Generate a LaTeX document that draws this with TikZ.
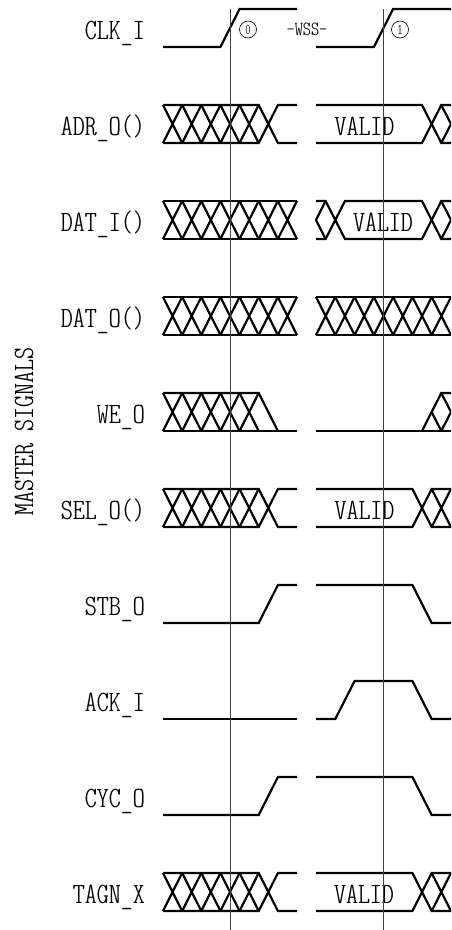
\documentclass[tikz,border=0pt]{standalone}
\newcommand{\sigfont}{\fontsize{29.5}{29.5}\ttfamily\fontseries{lc}\selectfont}
\newcommand{\wssfont}{\fontsize{20}{20}\ttfamily\fontseries{lc}\selectfont}
\newcommand{\numfont}{\fontsize{15}{15}\ttfamily\fontseries{lc}\selectfont}
\newcommand{\sig}[1]{\scalebox{1.16}[1]{#1}}
\begin{document}
\begin{tikzpicture}[x=1pt, y=-1pt,
    wave/.style={line width=2.2pt},
    marker/.style={line width=0.9pt, black!75},
    siglabel/.style={anchor=base east, inner sep=0pt, font=\sigfont},
    valid/.style={anchor=base, inner sep=0pt, font=\sigfont},
    edgenum/.style={draw, circle, line width=0.6pt, inner sep=0pt, minimum size=17pt, font=\numfont}]
    \useasboundingbox (0,0) rectangle (451,930);
    \clip (0,0) rectangle (451,930);

    % Group label
    \node[rotate=90, anchor=base, inner sep=0pt, font=\sigfont] (master) at (33,431.5) {\sig{MASTER SIGNALS}};

    % CLK_I
    \begin{scope}[shift={(0,9)}]
        \node[siglabel] (clk) at (145,30) {\sig{CLK\_I}};
        \draw[wave] (163,38) -- (220.4,38) -- (239.6,0) -- (297,0);
        \draw[wave] (316,38) -- (373.9,38) -- (393.1,0) -- (451,0);
        \node[edgenum] (edge0) at (248,20.5) {0};
        \node[anchor=base, inner sep=0pt, font=\wssfont] (wss) at (307,26) {\sig{-WSS-}};
        \node[edgenum] (edge1) at (400,20.5) {1};
    \end{scope}

    % ADR_O()
    \begin{scope}[shift={(0,105)}]
        \node[siglabel] (adr) at (145,30) {\sig{ADR\_O()}};
        \draw[wave] (163,0) -- (258.7,0) -- (277.9,38) -- (297,38);
        \draw[wave] (163,38) -- (258.7,38) -- (277.9,0) -- (297,0);
        \foreach \i in {0,...,4}
            \draw[wave] ({163+19.14*\i},0) -- ++(19.14,38) ({163+19.14*\i},38) -- ++(19.14,-38);
        \draw[wave] (316,0) -- (422,0) -- (441.3,38) -- (451,38);
        \draw[wave] (316,38) -- (422,38) -- (441.3,0) -- (451,0);
        \draw[wave] (441.3,0) -- (451,19) -- (441.3,38);
        \node[valid] (adrv) at (364.5,30) {\sig{VALID}};
    \end{scope}

    % DAT_I()
    \begin{scope}[shift={(0,201)}]
        \node[siglabel] (dati) at (145,30) {\sig{DAT\_I()}};
        \draw[wave] (163,0) -- (297,0) (163,38) -- (297,38);
        \foreach \i in {0,...,6}
            \draw[wave] ({163+19.14*\i},0) -- ++(19.14,38) ({163+19.14*\i},38) -- ++(19.14,-38);
        \draw[wave] (325.6,0) -- (316,19) -- (325.6,38);
        \draw[wave] (316,0) -- (325.6,0) -- (345,38) -- (422,38) -- (441.3,0) -- (451,0);
        \draw[wave] (316,38) -- (325.6,38) -- (345,0) -- (422,0) -- (441.3,38) -- (451,38);
        \draw[wave] (441.3,0) -- (451,19) -- (441.3,38);
        \node[valid] (dativ) at (383,30) {\sig{VALID}};
    \end{scope}

    % DAT_O()
    \begin{scope}[shift={(0,297)}]
        \node[siglabel] (dato) at (145,30) {\sig{DAT\_O()}};
        \draw[wave] (163,0) -- (297,0) (163,38) -- (297,38);
        \foreach \i in {0,...,6}
            \draw[wave] ({163+19.14*\i},0) -- ++(19.14,38) ({163+19.14*\i},38) -- ++(19.14,-38);
        \draw[wave] (316,0) -- (451,0) (316,38) -- (451,38);
        \foreach \i in {0,...,6}
            \draw[wave] ({316+19.29*\i},0) -- ++(19.29,38) ({316+19.29*\i},38) -- ++(19.29,-38);
    \end{scope}

    % WE_O
    \begin{scope}[shift={(0,393)}]
        \node[siglabel] (we) at (145,30) {\sig{WE\_O}};
        \draw[wave] (163,0) -- (258.7,0) -- (277.9,38);
        \draw[wave] (163,38) -- (297,38);
        \foreach \i in {0,...,4}
            \draw[wave] ({163+19.14*\i},0) -- ++(19.14,38) ({163+19.14*\i},38) -- ++(19.14,-38);
        \draw[wave] (316,38) -- (451,38);
        \draw[wave] (422,38) -- (441.3,0) -- (451,0);
        \draw[wave] (431.6,19) -- (441.3,38);
        \draw[wave] (441.3,0) -- (451,19) -- (441.3,38);
    \end{scope}

    % SEL_O()
    \begin{scope}[shift={(0,489)}]
        \node[siglabel] (sel) at (145,30) {\sig{SEL\_O()}};
        \draw[wave] (163,0) -- (258.7,0) -- (277.9,38) -- (297,38);
        \draw[wave] (163,38) -- (258.7,38) -- (277.9,0) -- (297,0);
        \foreach \i in {0,...,4}
            \draw[wave] ({163+19.14*\i},0) -- ++(19.14,38) ({163+19.14*\i},38) -- ++(19.14,-38);
        \draw[wave] (316,0) -- (412.4,0) -- (431.7,38) -- (451,38);
        \draw[wave] (316,38) -- (412.4,38) -- (431.7,0) -- (451,0);
        \draw[wave] (431.7,0) -- (451,38) (431.7,38) -- (451,0);
        \node[valid] (selv) at (364.5,30) {\sig{VALID}};
    \end{scope}

    % STB_O
    \begin{scope}[shift={(0,585)}]
        \node[siglabel] (stb) at (145,30) {\sig{STB\_O}};
        \draw[wave] (163,38) -- (258.7,38) -- (277.9,0) -- (297,0);
        \draw[wave] (316,0) -- (412.4,0) -- (431.7,38) -- (451,38);
    \end{scope}

    % ACK_I
    \begin{scope}[shift={(0,681)}]
        \node[siglabel] (ack) at (145,30) {\sig{ACK\_I}};
        \draw[wave] (163,38) -- (297,38);
        \draw[wave] (316,38) -- (335.3,38) -- (354.6,0) -- (412.4,0) -- (431.7,38) -- (451,38);
    \end{scope}

    % CYC_O
    \begin{scope}[shift={(0,777)}]
        \node[siglabel] (cyc) at (145,30) {\sig{CYC\_O}};
        \draw[wave] (163,38) -- (258.7,38) -- (277.9,0) -- (297,0);
        \draw[wave] (316,0) -- (412.4,0) -- (431.7,38) -- (451,38);
    \end{scope}

    % TAGN_X
    \begin{scope}[shift={(0,873)}]
        \node[siglabel] (tagn) at (145,30) {\sig{TAGN\_X}};
        \draw[wave] (163,0) -- (258.7,0) -- (277.9,38) -- (297,38);
        \draw[wave] (163,38) -- (258.7,38) -- (277.9,0) -- (297,0);
        \foreach \i in {0,...,4}
            \draw[wave] ({163+19.14*\i},0) -- ++(19.14,38) ({163+19.14*\i},38) -- ++(19.14,-38);
        \draw[wave] (316,0) -- (412.4,0) -- (431.7,38) -- (451,38);
        \draw[wave] (316,38) -- (412.4,38) -- (431.7,0) -- (451,0);
        \draw[wave] (431.7,0) -- (451,38) (431.7,38) -- (451,0);
        \node[valid] (tagnv) at (364,30) {\sig{VALID}};
    \end{scope}

    % Clock edge markers
    \draw[marker] (230,9) -- (230,930);
    \draw[marker] (383,9) -- (383,930);
\end{tikzpicture}
\end{document}
